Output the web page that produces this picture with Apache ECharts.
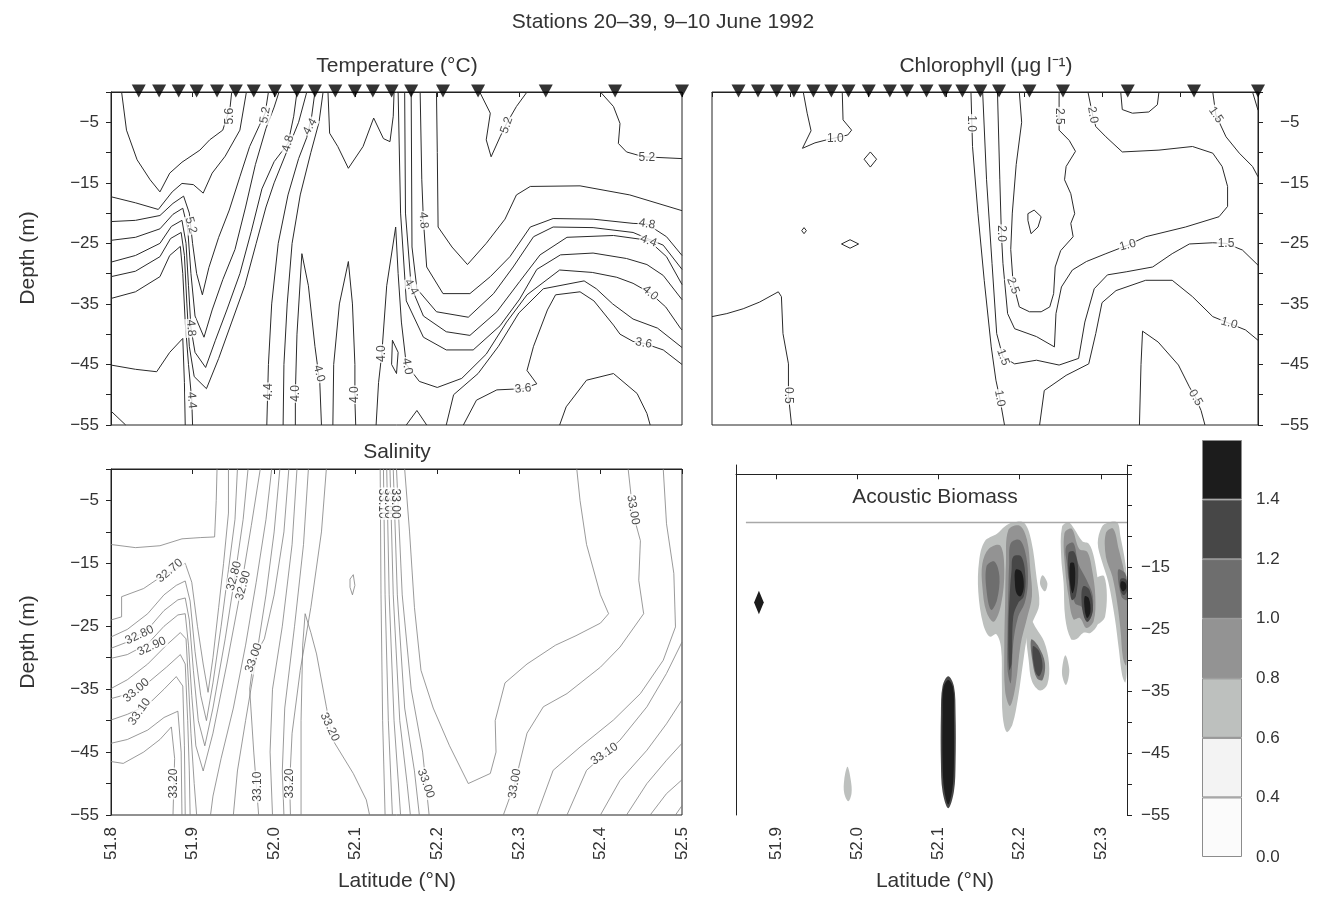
<!DOCTYPE html>
<html>
<head>
<meta charset="utf-8">
<title>Stations 20-39, 9-10 June 1992</title>
<script src="https://cdn.jsdelivr.net/npm/echarts@6/dist/echarts.min.js"></script>
<style>
  html, body { margin: 0; padding: 0; background: #fff; }
  #chart { width: 1324px; height: 921px; }
</style>
</head>
<body>
<div id="chart"></div>
<script>
// station positions (latitude, N) marked along the surface
const stationLats = [51.834, 51.859, 51.883, 51.905, 51.930, 51.953, 51.975, 52.001, 52.028, 52.050,
  52.075, 52.099, 52.121, 52.144, 52.168, 52.207, 52.250, 52.333, 52.418, 52.500];

// temperature isotherms, [latitude, depth]
const tempContours = [
  [[51.813,0],[51.819,-6.3],[51.832,-11.2],[51.848,-14.5],[51.860,-16.5],[51.872,-13.4],[51.887,-11.6],[51.909,-9.6],[51.921,-7.9],[51.937,-6.3],[51.946,-2.5],[51.948,0]],
  [[51.8,-17.3],[51.83,-18.3],[51.858,-19.4],[51.875,-16.5],[51.887,-15.1],[51.901,-15.3],[51.913,-16.7],[51.924,-13.4],[51.94,-10.6],[51.958,-6.3],[51.966,0]],
  [[51.8,-21.4],[51.83,-21.2],[51.86,-20.4],[51.876,-18.4],[51.889,-17.2],[51.896,-20],[51.9,-25],[51.905,-30],[51.912,-33.5],[51.92,-29],[51.932,-24],[51.945,-19.5],[51.958,-14],[51.97,-9],[51.982,-5.5],[51.989,-3.5],[51.993,0]],
  [[51.8,-24.5],[51.83,-24],[51.86,-22.6],[51.876,-20.2],[51.888,-19.2],[51.894,-22.5],[51.898,-30],[51.903,-37],[51.914,-40.5],[51.924,-36],[51.937,-31],[51.952,-26],[51.965,-19],[51.977,-12],[51.99,-6],[52.0,-2.5],[52.006,0]],
  [[51.8,-28.1],[51.83,-27],[51.86,-25],[51.874,-22.2],[51.887,-21.2],[51.892,-25],[51.895,-32],[51.898,-39],[51.903,-43],[51.916,-45.5],[51.928,-41],[51.942,-36],[51.958,-30],[51.972,-23],[51.985,-16],[52.0,-11.5],[52.017,-8.5],[52.024,-4],[52.028,0]],
  [[51.8,-30.5],[51.83,-29.6],[51.86,-27.2],[51.873,-24.2],[51.886,-23.2],[51.89,-27],[51.893,-35],[51.896,-42],[51.902,-47],[51.917,-49],[51.932,-44],[51.948,-38],[51.964,-32],[51.978,-25],[51.99,-19],[52.0,-15],[52.015,-10],[52.03,-5],[52.04,0]],
  [[51.8,-34.1],[51.83,-33],[51.86,-30.5],[51.872,-27],[51.885,-25.5],[51.888,-30],[51.891,-38],[51.895,-45],[51.899,-50.9],[51.9,-55]],
  [[51.8,-45.1],[51.83,-45.8],[51.856,-46.2],[51.872,-43],[51.888,-40.7],[51.89,-48],[51.891,-55]],
  [[51.8,-52.7],[51.818,-55]],
  [[51.991,-55],[51.993,-45],[51.997,-35],[52.005,-25],[52.017,-17],[52.03,-11],[52.04,-7.5],[52.046,-4],[52.05,0]],
  [[52.011,-55],[52.012,-45],[52.016,-35],[52.022,-25],[52.032,-17],[52.045,-10],[52.055,-5],[52.06,0]],
  [[52.026,-55],[52.026,-49.8],[52.028,-40],[52.034,-26.7],[52.042,-32],[52.05,-42],[52.056,-48.1],[52.058,-55]],
  [[52.072,-55],[52.073,-45],[52.08,-35],[52.091,-28],[52.096,-35],[52.099,-45],[52.099,-50.9],[52.1,-55]],
  [[52.066,0],[52.068,-6.8],[52.078,-9],[52.091,-12.6],[52.109,-9],[52.122,-4.3],[52.134,-7.7],[52.142,-8.2],[52.146,-4],[52.147,0]],
  [[52.125,-55],[52.128,-48],[52.132,-43.2],[52.138,-32],[52.149,-22.3],[52.152,-30],[52.156,-38],[52.162,-45],[52.178,-47.8],[52.2,-48.8],[52.23,-47.3],[52.26,-43.3],[52.285,-38],[52.31,-33.5],[52.35,-29.4],[52.39,-29.8],[52.42,-30.6],[52.44,-31.6],[52.461,-33.2],[52.48,-35.5],[52.498,-39.0],[52.5,-39.3]],
  [[52.152,0],[52.155,-20],[52.162,-34.5],[52.183,-40.5],[52.211,-42.6],[52.244,-42.6],[52.277,-38.6],[52.301,-34.2],[52.322,-29.3],[52.351,-26.9],[52.391,-26.6],[52.432,-27.5],[52.457,-28.5],[52.477,-30.3],[52.5,-34.3]],
  [[52.160,0],[52.161,-20],[52.168,-32.2],[52.183,-37.0],[52.211,-39.6],[52.240,-40.2],[52.273,-36.3],[52.301,-31.3],[52.326,-26.9],[52.359,-24.0],[52.416,-23.7],[52.459,-24.5],[52.481,-27.2],[52.5,-31.8]],
  [[52.168,0],[52.169,-25.6],[52.175,-32.5],[52.199,-36.3],[52.238,-37.2],[52.269,-33.3],[52.293,-28.9],[52.318,-23.9],[52.342,-22.3],[52.391,-22.4],[52.440,-23.2],[52.477,-25.3],[52.5,-29.3]],
  [[52.179,0],[52.181,-14.5],[52.183,-21.2],[52.187,-28.9],[52.207,-33.3],[52.240,-33.3],[52.265,-30.5],[52.289,-27.2],[52.314,-22.3],[52.342,-20.9],[52.391,-21.0],[52.440,-21.7],[52.457,-21.8],[52.481,-23.9],[52.5,-27.0]],
  [[52.199,0],[52.200,-10],[52.201,-22.3],[52.218,-25.6],[52.237,-28.5],[52.26,-25],[52.283,-21],[52.297,-17],[52.314,-15.6],[52.375,-15.5],[52.436,-17],[52.5,-19.6]],
  [[52.211,-55],[52.22,-50],[52.25,-46.5],[52.275,-42],[52.30,-36.5],[52.33,-32.5],[52.38,-31.2],[52.395,-32.5],[52.415,-35],[52.44,-37.5],[52.47,-39],[52.5,-42.2]],
  [[52.232,-55],[52.248,-50.9],[52.273,-49.2],[52.305,-49],[52.322,-48.2],[52.31,-46],[52.318,-42],[52.335,-36],[52.345,-33.5],[52.375,-33],[52.392,-34.5],[52.416,-38.5],[52.424,-40],[52.440,-41.2],[52.453,-41.5],[52.477,-42.6],[52.5,-45.0]],
  [[52.350,-55],[52.358,-52],[52.383,-47.6],[52.416,-46.5],[52.445,-49.8],[52.457,-53.1],[52.461,-55]],
  [[52.162,-55],[52.175,-52.6],[52.187,-55]],
  [[52.145,-41],[52.152,-43],[52.150,-46.5],[52.144,-45],[52.145,-41]],
  [[52.252,0],[52.265,-3.5],[52.26,-7.9],[52.266,-10.7],[52.277,-7.4],[52.285,-5.2],[52.297,-2.4],[52.31,0]],
  [[52.40,0],[52.416,-2.4],[52.424,-5.2],[52.422,-8.5],[52.432,-9.9],[52.453,-10.7],[52.5,-11.0]]
];

// [text, latitude, depth, angle]
const tempLabels = [
  ['5.6', 51.946, -4.0, 90], ['5.2', 51.989, -3.8, 80], ['4.8', 52.017, -8.5, 75], ['4.4', 52.044, -5.7, 60],
  ['5.2', 51.898, -22.0, -75], ['4.8', 51.898, -39.0, -85], ['4.4', 51.899, -50.9, -85],
  ['4.4', 51.993, -49.5, 90], ['4.0', 52.026, -49.8, 90], ['4.0', 52.055, -46.5, -75],
  ['4.0', 52.099, -50.0, 90], ['4.0', 52.132, -43.2, 90],
  ['4.8', 52.183, -21.2, -85], ['4.4', 52.168, -32.2, -60], ['4.0', 52.163, -45.3, -80],
  ['5.2', 52.285, -5.5, 70], ['5.2', 52.457, -10.8, 0], ['4.8', 52.457, -21.8, -10],
  ['4.4', 52.459, -24.6, -20], ['4.0', 52.461, -33.2, -40], ['3.6', 52.453, -41.5, -10], ['3.6', 52.305, -49.0, 5]
];

// chlorophyll isolines, [latitude, depth]
const chlContours = [
  [[51.917,0],[51.922,-3.5],[51.927,-6.4],[51.916,-9.3],[51.932,-8.4],[51.947,-7.9],[51.974,-7.1],[51.979,-6.3],[51.968,-4.6],[51.967,0]],
  [[51.995,-11.1],[52.003,-9.9],[52.011,-11.1],[52.003,-12.4],[51.995,-11.1]],
  [[51.915,-22.9],[51.918,-22.4],[51.921,-22.9],[51.918,-23.4],[51.915,-22.9]],
  [[51.966,-25.1],[51.977,-24.4],[51.988,-25.1],[51.977,-25.8],[51.966,-25.1]],
  [[51.8,-37.1],[51.819,-36.6],[51.840,-35.8],[51.861,-34.7],[51.885,-33.0],[51.889,-33.8],[51.891,-39.9],[51.898,-44.9],[51.898,-50.1],[51.902,-55]],
  [[52.132,0],[52.134,-9],[52.141,-20.1],[52.149,-31.1],[52.158,-42.1],[52.164,-47.6],[52.169,-50.6],[52.175,-55]],
  [[52.147,0],[52.152,-14.5],[52.159,-28.3],[52.165,-39.9],[52.173,-43.8],[52.188,-44.9],[52.216,-44.3],[52.245,-45.1],[52.270,-44],[52.278,-38],[52.290,-32.5],[52.307,-30.2],[52.331,-29.7],[52.365,-28.9],[52.390,-26.7],[52.412,-25.1],[52.442,-24.9],[52.459,-25.0],[52.480,-26.1],[52.5,-28.6]],
  [[52.282,0],[52.288,-3.8],[52.292,-5.7],[52.305,-7.4],[52.326,-9.9],[52.373,-9.6],[52.416,-9.0],[52.442,-10.1],[52.454,-12.3],[52.461,-15.6],[52.461,-18.9],[52.450,-20.6],[52.407,-22.3],[52.356,-23.9],[52.333,-25.3],[52.305,-26.7],[52.280,-28.0],[52.262,-29.4],[52.248,-32.2],[52.241,-36.6],[52.239,-42.1],[52.216,-40.4],[52.188,-39.1],[52.179,-36.6],[52.173,-28.3],[52.171,-23.4],[52.169,-14.5],[52.166,0]],
  [[52.194,0],[52.197,-5],[52.190,-12],[52.185,-20],[52.183,-26],[52.186,-31.5],[52.194,-35.5],[52.207,-36.3],[52.222,-36.3],[52.233,-35.5],[52.238,-33.3],[52.240,-28.9],[52.247,-26.2],[52.263,-23.9],[52.260,-21.7],[52.265,-20.1],[52.26,-16.8],[52.252,-14.5],[52.254,-12.3],[52.266,-9.8],[52.258,-8],[52.245,-6.3],[52.245,0]],
  [[52.205,-20.1],[52.213,-19.5],[52.222,-20.6],[52.218,-22.3],[52.209,-23.4],[52.205,-21.2],[52.205,-20.1]],
  [[52.324,0],[52.326,-2.9],[52.339,-3.5],[52.360,-3.3],[52.371,-2.1],[52.373,0]],
  [[52.442,0],[52.446,-3.8],[52.459,-7.4],[52.476,-10.1],[52.493,-12.3],[52.5,-14]],
  [[52.493,0],[52.5,-3]],
  [[52.220,-55],[52.226,-49.3],[52.254,-46.8],[52.283,-44.9],[52.292,-39.9],[52.300,-34.8],[52.318,-32.8],[52.356,-31.1],[52.390,-31.1],[52.416,-33.8],[52.442,-37.1],[52.463,-38.2],[52.484,-39.3],[52.5,-41.0]],
  [[52.348,-55],[52.350,-45],[52.352,-39.5],[52.372,-41.3],[52.398,-45.1],[52.412,-48.7],[52.420,-50.5],[52.427,-52.6],[52.432,-55]]
];

const chlLabels = [
  ['1.0', 51.958, -7.7, 0], ['0.5', 51.898, -50.1, -90], ['1.0', 52.133, -5.2, -90],
  ['2.0', 52.171, -23.4, -90], ['2.5', 52.186, -32.0, -70], ['1.5', 52.173, -43.8, -70],
  ['1.0', 52.169, -50.6, -80], ['2.5', 52.245, -4.0, -90], ['2.0', 52.288, -3.8, -80],
  ['1.0', 52.333, -25.3, 15], ['1.5', 52.459, -25.0, 0], ['1.0', 52.463, -38.2, -15],
  ['0.5', 52.420, -50.5, -60], ['1.5', 52.446, -3.8, -55]
];

// salinity isohalines, [latitude, depth]
const salContours = [
  [[51.8,-12],[51.83,-12.5],[51.86,-12.2],[51.887,-11.1],[51.91,-10.9],[51.927,-10.8],[51.929,-5],[51.930,0]],
  [[51.8,-24.0],[51.813,-23.5],[51.813,-20.3],[51.84,-19],[51.865,-16.8],[51.88,-15.9],[51.891,-15.0],[51.899,-18],[51.906,-25],[51.913,-31],[51.919,-35.5],[51.925,-30],[51.932,-22],[51.938,-15],[51.944,-7],[51.944,0]],
  [[51.8,-26.7],[51.82,-25.5],[51.845,-23],[51.865,-20],[51.88,-18.5],[51.891,-17.8],[51.897,-21],[51.903,-29],[51.91,-36],[51.917,-40],[51.925,-34],[51.935,-25],[51.944,-16],[51.952,-8],[51.955,0]],
  [[51.8,-28.5],[51.82,-27.5],[51.845,-25.5],[51.865,-22.5],[51.882,-20.8],[51.891,-20.5],[51.896,-24],[51.901,-32],[51.907,-40],[51.915,-44],[51.925,-38],[51.94,-27],[51.952,-17],[51.962,-8],[51.968,0]],
  [[51.8,-30.1],[51.82,-29.5],[51.845,-27.8],[51.865,-25],[51.882,-23.2],[51.891,-23],[51.895,-28],[51.899,-36],[51.904,-44],[51.913,-48],[51.925,-42],[51.942,-31],[51.958,-20],[51.972,-9],[51.983,0]],
  [[51.8,-34.9],[51.82,-33.5],[51.845,-31],[51.868,-28],[51.885,-26],[51.892,-27],[51.895,-34],[51.898,-42],[51.902,-50],[51.905,-55]],
  [[51.8,-36.5],[51.82,-35.8],[51.845,-34],[51.868,-31.5],[51.885,-29.5],[51.891,-31],[51.894,-40],[51.896,-48],[51.897,-55]],
  [[51.8,-39.9],[51.82,-39],[51.845,-37.5],[51.865,-35],[51.88,-33],[51.888,-34.5],[51.89,-44],[51.891,-55]],
  [[51.8,-43.6],[51.82,-43],[51.845,-41.5],[51.865,-39.5],[51.882,-38.5],[51.886,-45],[51.887,-55]],
  [[51.8,-46.5],[51.815,-46.8],[51.84,-45],[51.86,-43],[51.874,-41],[51.878,-46],[51.876,-55]],
  [[51.997,0],[51.99,-8],[51.978,-18],[51.965,-28],[51.95,-38],[51.935,-46],[51.925,-52],[51.922,-55]],
  [[52.007,0],[52.0,-10],[51.99,-20],[51.978,-30],[51.965,-40],[51.955,-48],[51.95,-55]],
  [[52.018,0],[52.012,-10],[52.0,-20],[51.988,-27],[51.975,-30],[51.97,-35],[51.975,-45],[51.981,-55]],
  [[52.028,0],[52.022,-12],[52.01,-25],[51.998,-35],[51.995,-45],[51.998,-55]],
  [[52.042,0],[52.036,-12],[52.025,-25],[52.013,-38],[52.01,-48],[52.012,-55]],
  [[52.064,0],[52.058,-10],[52.045,-22],[52.032,-32],[52.022,-42],[52.019,-50],[52.02,-55]],
  [[52.033,-55],[52.033,-40],[52.035,-28],[52.038,-23],[52.045,-26],[52.052,-29.4],[52.064,-37.8],[52.072,-43.1],[52.097,-48.4],[52.113,-52.6],[52.117,-55]],
  [[52.093,-17.5],[52.097,-16.8],[52.099,-18.5],[52.096,-20],[52.093,-18.8],[52.093,-17.5]],
  [[52.130,0],[52.131,-20],[52.133,-40],[52.136,-55]],
  [[52.134,0],[52.136,-20],[52.140,-40],[52.145,-55]],
  [[52.138,0],[52.141,-20],[52.147,-40],[52.155,-55]],
  [[52.142,0],[52.146,-20],[52.154,-40],[52.163,-50],[52.167,-55]],
  [[52.146,0],[52.151,-20],[52.160,-38],[52.172,-48],[52.178,-55]],
  [[52.150,0],[52.157,-20],[52.168,-35],[52.182,-45],[52.19,-55]],
  [[52.160,0],[52.166,-10],[52.172,-22],[52.18,-32],[52.195,-38],[52.215,-44],[52.238,-50],[52.265,-48.4],[52.272,-45],[52.271,-40],[52.283,-34],[52.31,-31],[52.345,-28],[52.37,-26.5],[52.4,-24.5],[52.41,-23],[52.4,-20],[52.383,-12],[52.375,-5],[52.371,0]],
  [[52.281,-55],[52.295,-50],[52.31,-42],[52.33,-37.8],[52.359,-35.7],[52.4,-31.5],[52.424,-28.3],[52.453,-23],[52.447,-17.7],[52.449,-11.4],[52.44,-7.1],[52.434,0]],
  [[52.322,-55],[52.342,-47.9],[52.375,-44.2],[52.416,-39.9],[52.449,-35.7],[52.477,-30.4],[52.492,-25.1],[52.49,-16.6],[52.481,-8.7],[52.477,0]],
  [[52.359,-55],[52.383,-47.9],[52.424,-43.1],[52.457,-37.8],[52.481,-32.5],[52.5,-27.5]],
  [[52.400,-55],[52.424,-49.5],[52.457,-44.7],[52.481,-40.5],[52.5,-36.7]],
  [[52.432,-55],[52.457,-50],[52.481,-46.3],[52.5,-43.6]],
  [[52.461,-55],[52.481,-51.6],[52.5,-49.4]],
  [[52.492,-55],[52.5,-53.5]]
];

const salLabels = [
  ['32.70', 51.872, -16.2, 40], ['32.80', 51.835, -26.4, 25], ['32.90', 51.850, -28.2, 25],
  ['33.00', 51.831, -35.2, 40], ['33.10', 51.835, -38.6, 55],
  ['32.80', 51.951, -17.0, 75], ['32.90', 51.962, -18.5, 75], ['33.00', 51.975, -30.0, 70],
  ['33.20', 51.877, -50.0, 90], ['33.10', 51.980, -50.5, 90], ['33.20', 52.019, -50.0, 90],
  ['33.20', 52.068, -41.0, -65], ['33.10', 52.133, -5.5, -90], ['33.00', 52.140, -5.5, -90],
  ['33.00', 52.148, -5.5, -90], ['33.00', 52.186, -50.0, -70], ['33.00', 52.295, -50.0, 80],
  ['33.10', 52.405, -45.3, 35], ['33.00', 52.440, -6.5, -80]
];

// acoustic biomass colour classes (legend) and patches, [latitude, depth]
const biomassClasses = ['0.0', '0.4', '0.6', '0.8', '1.0', '1.2', '1.4'];
const classColors = ['#fbfbfb', '#f3f3f3', '#bdc0be', '#939393', '#6e6e6e', '#474747', '#1c1c1c'];

const biomass06 = [
  [[52.150,-14.0],[52.157,-10.8],[52.172,-9.6],[52.182,-8.4],[52.191,-7.8],[52.205,-7.8],[52.214,-10.6],[52.221,-17.0],[52.224,-21.0],[52.217,-23.5],[52.210,-25.6],[52.204,-30.5],[52.198,-36.0],[52.191,-40.4],[52.184,-41.6],[52.179,-39.0],[52.178,-33.7],[52.177,-28.0],[52.171,-25.8],[52.163,-26.2],[52.155,-24.2],[52.149,-19.0]],
  [[52.209,-22.5],[52.220,-24.8],[52.230,-27.0],[52.236,-30.5],[52.234,-33.9],[52.225,-34.9],[52.215,-33.4],[52.211,-30.0],[52.208,-26.2]],
  [[52.252,-8.5],[52.260,-7.8],[52.267,-8.8],[52.277,-10.8],[52.285,-11.2],[52.291,-13.2],[52.296,-17.0],[52.300,-20.8],[52.296,-24.2],[52.287,-25.6],[52.278,-25.6],[52.270,-26.6],[52.263,-26.6],[52.256,-23.2],[52.254,-17.6],[52.251,-13.3]],
  [[52.289,-17.5],[52.304,-16.5],[52.305,-23.0],[52.292,-24.2]],
  [[52.301,-8.5],[52.309,-7.8],[52.320,-7.8],[52.324,-10.1],[52.330,-14.4],[52.332,-17.6],[52.332,-20.8],[52.332,-30.5],[52.330,-33.6],[52.326,-32.4],[52.322,-28.3],[52.317,-23.2],[52.309,-17.4],[52.301,-14.0],[52.296,-11.1]],
  [[52.228,-16.3],[52.234,-17.6],[52.231,-18.9],[52.225,-17.7]],
  [[52.256,-29.2],[52.261,-31.6],[52.257,-34.0],[52.252,-32.1]],
  [[51.988,-47.2],[51.992,-49.3],[51.993,-51.5],[51.989,-52.8],[51.984,-51.5],[51.984,-49.3]]
];
const biomass08 = [
  [[52.154,-14.4],[52.162,-12.0],[52.176,-11.5],[52.181,-15.4],[52.177,-21.0],[52.168,-23.8],[52.159,-22.2],[52.154,-18.1]],
  [[52.186,-9.0],[52.200,-8.3],[52.209,-10.6],[52.213,-15.4],[52.215,-19.7],[52.209,-23.2],[52.201,-27.5],[52.195,-34.0],[52.188,-37.4],[52.182,-35.0],[52.181,-27.8],[52.182,-20.8],[52.183,-14.4]],
  [[52.255,-9.5],[52.264,-8.8],[52.273,-12.0],[52.283,-12.5],[52.289,-15.4],[52.293,-19.7],[52.291,-23.7],[52.282,-24.8],[52.274,-23.2],[52.266,-23.4],[52.260,-19.7],[52.256,-15.4]],
  [[52.306,-9.5],[52.315,-8.8],[52.322,-12.2],[52.328,-15.4],[52.332,-18.7],[52.332,-25.1],[52.331,-30.8],[52.327,-29.6],[52.324,-25.1],[52.320,-20.8],[52.314,-16.5],[52.306,-13.3]]
];
const biomass10 = [
  [[52.159,-14.9],[52.169,-14.1],[52.175,-16.5],[52.172,-20.3],[52.165,-21.9],[52.160,-19.7]],
  [[52.189,-11.1],[52.200,-10.6],[52.208,-13.3],[52.210,-17.6],[52.206,-20.8],[52.198,-23.0],[52.192,-27.3],[52.189,-33.7],[52.185,-31.6],[52.185,-25.1],[52.186,-18.7],[52.187,-14.4]],
  [[52.214,-26.7],[52.223,-27.8],[52.231,-30.5],[52.228,-33.2],[52.221,-32.9],[52.216,-30.5]],
  [[52.257,-11.7],[52.266,-11.1],[52.272,-14.4],[52.282,-17.0],[52.290,-19.7],[52.288,-23.0],[52.282,-23.8],[52.276,-21.4],[52.268,-20.8],[52.261,-17.6],[52.258,-14.4]],
  [[52.321,-15.4],[52.330,-16.0],[52.332,-18.1],[52.332,-20.3],[52.325,-19.7]]
];
const biomass12 = [
  [[52.192,-13.3],[52.202,-13.3],[52.207,-16.5],[52.205,-19.7],[52.198,-20.8],[52.192,-23.0],[52.190,-30.5],[52.187,-31.6],[52.186,-25.1],[52.188,-18.7],[52.190,-15.4]],
  [[52.216,-27.8],[52.224,-28.6],[52.228,-31.0],[52.224,-32.6],[52.219,-31.8]],
  [[52.260,-12.7],[52.267,-12.5],[52.272,-15.4],[52.269,-19.7],[52.264,-20.3],[52.261,-17.6]],
  [[52.278,-18.1],[52.286,-18.7],[52.290,-21.9],[52.284,-23.8],[52.279,-23.0],[52.276,-20.3]],
  [[52.324,-16.9],[52.331,-17.0],[52.332,-18.7],[52.328,-19.5],[52.324,-18.7]],
  [[52.112,-32.6],[52.119,-34.2],[52.121,-38.6],[52.121,-46.6],[52.119,-51.2],[52.112,-53.9],[52.105,-51.2],[52.103,-46.6],[52.103,-38.6],[52.105,-34.2]]
];
const biomass14 = [
  [[52.195,-15.4],[52.202,-15.7],[52.205,-18.1],[52.201,-19.7],[52.196,-19.2],[52.194,-17.3]],
  [[52.262,-14.4],[52.267,-14.4],[52.268,-17.6],[52.265,-19.2],[52.262,-17.6]],
  [[52.280,-19.7],[52.285,-20.0],[52.287,-22.2],[52.283,-23.2],[52.280,-21.9]],
  [[52.325,-17.3],[52.330,-17.5],[52.331,-18.4],[52.327,-18.9],[52.324,-18.2]],
  [[52.112,-33.2],[52.118,-34.5],[52.119,-38.6],[52.119,-46.6],[52.117,-50.9],[52.112,-53.3],[52.107,-50.9],[52.105,-46.6],[52.105,-38.6],[52.106,-34.5]]
];
const biomassMarker = [[51.873,-20.7],[51.879,-18.8],[51.885,-20.7],[51.879,-22.6]];
const surveyTop = [[51.863,-7.8],[52.332,-7.8]];

// ---------------------------------------------------------------
const FONT = 'Liberation Sans';
const INK = '#222';
const axisLine = { show: true, lineStyle: { color: INK, width: 1 } };
const axisTick = { show: true, length: 5, lineStyle: { color: INK, width: 1 } };
const tickText = { color: '#333', fontSize: 17, fontFamily: FONT };

function depthLabel(v) {
  return Math.abs(v) % 10 === 5 ? '\u2212' + Math.abs(v) : '';
}
function latLabel(v) {
  return Math.abs(v * 10 - Math.round(v * 10)) < 1e-6 ? v.toFixed(1) : '';
}

function lineSeries(lines, idx, color, width) {
  return lines.map(pts => ({
    type: 'line', xAxisIndex: idx, yAxisIndex: idx, data: pts,
    symbol: 'none', silent: true, animation: false, z: 2,
    lineStyle: { color: color, width: width }
  }));
}

function labelSeries(labels, idx) {
  return {
    type: 'scatter', xAxisIndex: idx, yAxisIndex: idx, symbolSize: 1, silent: true, animation: false, z: 6,
    itemStyle: { color: 'rgba(0,0,0,0)' },
    data: labels.map(l => ({ value: [l[1], l[2]], name: l[0], label: { rotate: l[3] } })),
    label: {
      show: true, position: 'inside', formatter: p => p.name,
      fontSize: 12, color: '#1a1a1a', fontFamily: FONT,
      backgroundColor: '#fff', padding: [0, 1]
    }
  };
}

function stationSeries(idx) {
  return {
    type: 'scatter', xAxisIndex: idx, yAxisIndex: idx, silent: true, animation: false, z: 10, clip: false,
    data: stationLats.map(v => [v, 0]),
    symbol: 'triangle', symbolRotate: 180, symbolSize: [14, 13], symbolOffset: [0, -1],
    itemStyle: { color: '#000' }
  };
}

const patches = [];
[[biomass06, 2], [biomass08, 3], [biomass10, 4], [biomass12, 5], [biomass14, 6]].forEach(([polys, cls]) => {
  polys.forEach(p => patches.push({ pts: p, cls: cls, smooth: 0.35 }));
});
patches.push({ pts: biomassMarker, cls: 6, smooth: 0 });

const biomassSeries = {
  type: 'custom', xAxisIndex: 3, yAxisIndex: 3, silent: true, animation: false, clip: true, z: 2,
  data: patches.map((p, i) => [p.pts[0][0], p.pts[0][1], i]),
  renderItem: function (params, api) {
    const patch = patches[api.value(2)];
    return {
      type: 'polygon',
      shape: { points: patch.pts.map(q => api.coord(q)), smooth: patch.smooth },
      style: { fill: classColors[patch.cls], stroke: null }
    };
  }
};

const legendSeries = biomassClasses.map((c, i) => ({
  type: 'bar', xAxisIndex: 4, yAxisIndex: 5, stack: 'legend', data: [1],
  barWidth: '100%', silent: true, animation: false,
  itemStyle: { color: classColors[i], borderColor: '#8c8c8c', borderWidth: 1 }
}));

function valueX(grid, showLabels) {
  return {
    type: 'value', gridIndex: grid, min: 51.8, max: 52.5, interval: 0.1,
    axisLine: axisLine, axisTick: axisTick, splitLine: { show: false },
    axisLabel: showLabels
      ? Object.assign({ show: true, rotate: 90, margin: 12, formatter: latLabel }, tickText)
      : { show: false }
  };
}
function depthY(grid, side) {
  return {
    type: 'value', gridIndex: grid, min: -55, max: 0, interval: 5, position: side,
    axisLine: axisLine, axisTick: axisTick, splitLine: { show: false },
    axisLabel: Object.assign({ margin: side === 'right' ? 22 : 12, formatter: depthLabel }, tickText)
  };
}

const gridBox = { show: true, borderColor: INK, borderWidth: 1, backgroundColor: 'transparent' };

const option = {
  backgroundColor: '#fff',
  animation: false,
  grid: [
    Object.assign({ left: 111, top: 92, width: 571, height: 333, outerBoundsMode: 'none' }, gridBox),
    Object.assign({ left: 712, top: 92, width: 546, height: 333, outerBoundsMode: 'none' }, gridBox),
    Object.assign({ left: 111, top: 469, width: 571, height: 346, outerBoundsMode: 'none' }, gridBox),
    { left: 736, top: 465, width: 391, height: 350, outerBoundsMode: 'none', show: false },
    { left: 1202, top: 440, width: 40, height: 417, outerBoundsMode: 'none', show: false }
  ],
  xAxis: [
    valueX(0, false),
    valueX(1, false),
    valueX(2, true),
    {
      type: 'value', gridIndex: 3, min: 51.8508, max: 52.332, splitNumber: 5,
      axisLine: axisLine, axisTick: axisTick, splitLine: { show: false },
      axisLabel: Object.assign({ rotate: 90, margin: 12, formatter: latLabel }, tickText)
    },
    { type: 'category', gridIndex: 4, data: [''], show: false }
  ],
  yAxis: [
    depthY(0, 'left'),
    depthY(1, 'right'),
    depthY(2, 'left'),
    {
      type: 'value', gridIndex: 3, min: -55, max: 1.5, interval: 5, position: 'right',
      axisLine: axisLine, axisTick: axisTick, splitLine: { show: false },
      axisLabel: Object.assign({
        margin: 14,
        formatter: v => (v <= -15 && Math.abs(v) % 10 === 5) ? '\u2212' + Math.abs(v) : ''
      }, tickText)
    },
    {
      type: 'value', gridIndex: 3, min: -55, max: 1.5, position: 'left',
      axisLine: axisLine, axisTick: { show: false }, axisLabel: { show: false }, splitLine: { show: false }
    },
    {
      type: 'value', gridIndex: 4, min: 0, max: 7, interval: 1, position: 'right',
      axisLine: { show: false }, axisTick: { show: false }, splitLine: { show: false },
      axisLabel: Object.assign({ margin: 14, formatter: v => (v < 7 ? biomassClasses[v] : '') }, tickText)
    }
  ],
  graphic: [
    { type: 'text', x: 663, y: 22, style: { text: 'Stations 20\u201339, 9\u201310 June 1992', fontSize: 21, fontFamily: FONT, fill: '#333', textAlign: 'center', verticalAlign: 'middle', textVerticalAlign: 'middle' } },
    { type: 'text', x: 397, y: 66, style: { text: 'Temperature (\u00b0C)', fontSize: 21, fontFamily: FONT, fill: '#333', textAlign: 'center', verticalAlign: 'middle', textVerticalAlign: 'middle' } },
    { type: 'text', x: 986, y: 66, style: { text: 'Chlorophyll (\u03bcg l\u207b\u00b9)', fontSize: 21, fontFamily: FONT, fill: '#333', textAlign: 'center', verticalAlign: 'middle', textVerticalAlign: 'middle' } },
    { type: 'text', x: 397, y: 452, style: { text: 'Salinity', fontSize: 21, fontFamily: FONT, fill: '#333', textAlign: 'center', verticalAlign: 'middle', textVerticalAlign: 'middle' } },
    { type: 'text', x: 935, y: 497, style: { text: 'Acoustic Biomass', fontSize: 21, fontFamily: FONT, fill: '#333', textAlign: 'center', verticalAlign: 'middle', textVerticalAlign: 'middle' } },
    { type: 'text', x: 28, y: 258, rotation: Math.PI / 2, style: { text: 'Depth (m)', fontSize: 21, fontFamily: FONT, fill: '#333', textAlign: 'center', verticalAlign: 'middle', textVerticalAlign: 'middle' } },
    { type: 'text', x: 28, y: 642, rotation: Math.PI / 2, style: { text: 'Depth (m)', fontSize: 21, fontFamily: FONT, fill: '#333', textAlign: 'center', verticalAlign: 'middle', textVerticalAlign: 'middle' } },
    { type: 'text', x: 397, y: 881, style: { text: 'Latitude (\u00b0N)', fontSize: 21, fontFamily: FONT, fill: '#333', textAlign: 'center', verticalAlign: 'middle', textVerticalAlign: 'middle' } },
    { type: 'text', x: 935, y: 881, style: { text: 'Latitude (\u00b0N)', fontSize: 21, fontFamily: FONT, fill: '#333', textAlign: 'center', verticalAlign: 'middle', textVerticalAlign: 'middle' } }
  ],
  series: [].concat(
    lineSeries(tempContours, 0, '#2a2a2a', 1),
    [labelSeries(tempLabels, 0), stationSeries(0)],
    lineSeries(chlContours, 1, '#2a2a2a', 1),
    [labelSeries(chlLabels, 1), stationSeries(1)],
    lineSeries(salContours, 2, '#808080', 0.8),
    [labelSeries(salLabels, 2)],
    [biomassSeries],
    lineSeries([surveyTop], 3, '#a8a8a8', 1.5),
    legendSeries
  )
};

const chart = echarts.init(document.getElementById('chart'), null, { renderer: 'canvas' });
chart.setOption(option);
</script>
</body>
</html>
